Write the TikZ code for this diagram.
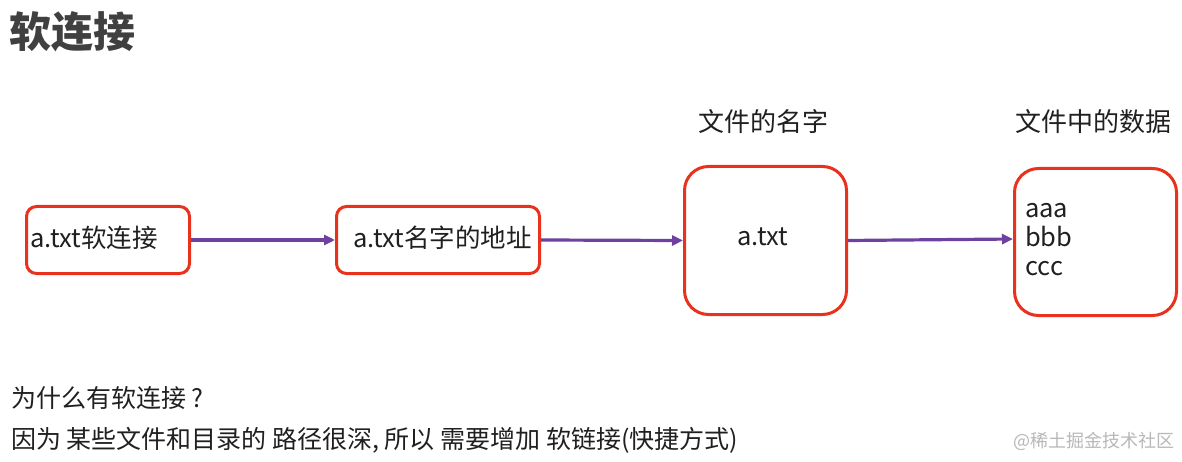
\documentclass[tikz,border=0pt]{standalone}
\usepackage{fontspec}
\setmainfont{Noto Sans CJK SC}
\usetikzlibrary{arrows.meta}
\definecolor{boxred}{HTML}{E8321E}
\definecolor{arrowpurple}{HTML}{7040A0}
\definecolor{titlegray}{HTML}{404040}
\definecolor{textdark}{HTML}{202020}
\begin{document}
\begin{tikzpicture}[x=1pt,y=-1pt,
  smallbox/.style={draw=boxred,line width=3pt,rounded corners=10pt,inner sep=0pt,anchor=north west},
  bigbox/.style={draw=boxred,line width=3pt,rounded corners=24pt,inner sep=0pt,anchor=north west},
  txt/.style={font=\fontsize{25.5}{29}\selectfont,text=textdark,inner sep=0pt},
  conn/.style={draw=arrowpurple,line width=3.2pt,-{Triangle[length=11pt,width=10pt]}}
]
\useasboundingbox[fill=white] (0,0) rectangle (1182,462);
\node[anchor=west,font=\fontsize{42}{46}\bfseries\selectfont,text=titlegray,inner sep=0pt] (title) at (9,32) {软连接};

\node[smallbox,minimum width=163pt,minimum height=67pt] (b1) at (25,205) {};
\node[smallbox,minimum width=203pt,minimum height=67pt] (b2) at (335,205) {};
\node[bigbox,minimum width=162pt,minimum height=148pt] (b3) at (683,165) {};
\node[bigbox,minimum width=162pt,minimum height=147pt] (b4) at (1013,167) {};

\node[txt,anchor=west] (t1) at (30,238) {a.txt软连接};
\node[txt,anchor=west] (t2) at (353,238) {a.txt名字的地址};
\node[txt] (t3) at (763,237) {a.txt};
\node[txt,anchor=west,align=left] (t4) at (1025,240) {aaa\\bbb\\ccc};

\node[txt,font=\fontsize{26}{30}\selectfont] (l3) at (763,122) {文件的名字};
\node[txt,font=\fontsize{26}{30}\selectfont] (l4) at (1093,122) {文件中的数据};

\draw[conn] (b1.east) -- (b2.west);
\draw[conn] (b2.east) -- (b3.west);
\draw[conn] (b3.east) -- ([yshift=3pt]b4.west);

\node[txt,anchor=west,font=\fontsize{25}{29}\selectfont] (q) at (11,398) {为什么有软连接 ?};
\node[txt,anchor=west,font=\fontsize{25}{29}\selectfont] (a) at (11,440) {因为 某些文件和目录的 路径很深, 所以 需要增加 软链接(快捷方式)};
\node[anchor=east,font=\fontsize{18}{21}\selectfont,text=black!28,inner sep=0pt] (wm) at (1175,441) {@稀土掘金技术社区};
\end{tikzpicture}
\end{document}
